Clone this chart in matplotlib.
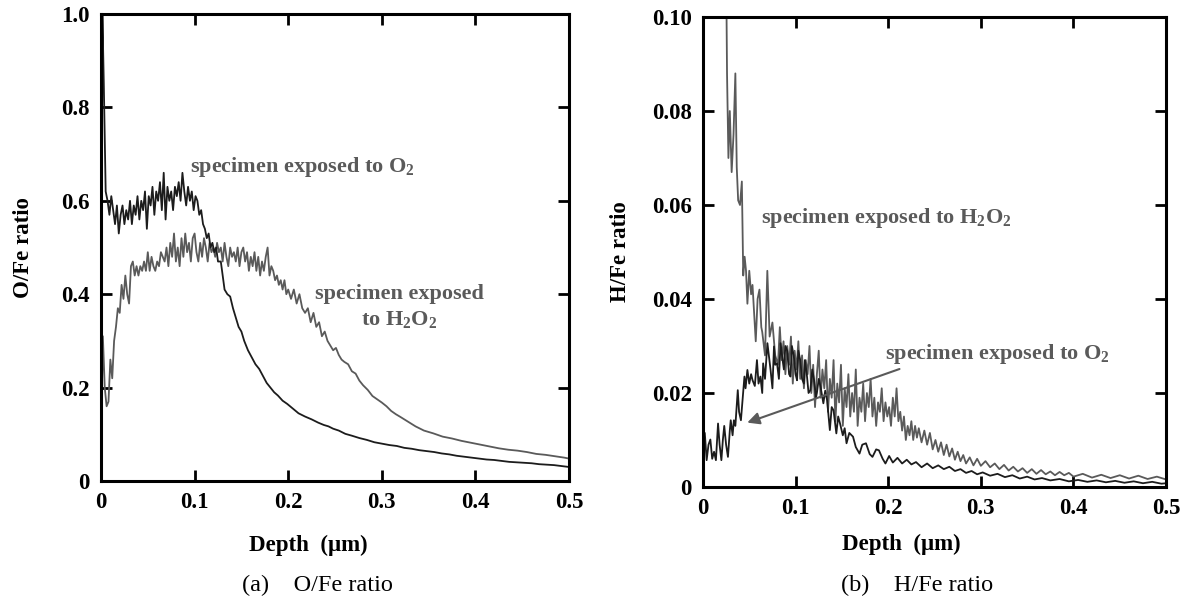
import matplotlib
matplotlib.use("Agg")
import matplotlib.pyplot as plt

plt.rcParams['font.family'] = ['Liberation Serif', 'DejaVu Serif']
plt.rcParams['mathtext.fontset'] = 'custom'
plt.rcParams['mathtext.rm'] = 'Liberation Serif:bold'
plt.rcParams['mathtext.it'] = 'Liberation Serif:bold'
plt.rcParams['mathtext.bf'] = 'Liberation Serif:bold'

# ---- (a) O/Fe ratio ----
o2_oxy_depth = [0.000, 0.0015, 0.003, 0.005, 0.007, 0.009, 0.011, 0.013, 0.015, 0.017,
                0.019, 0.021, 0.023, 0.025, 0.027, 0.029, 0.031, 0.033, 0.035, 0.037,
                0.039, 0.041, 0.043, 0.045, 0.047, 0.049, 0.051, 0.053, 0.055, 0.057,
                0.059, 0.061, 0.063, 0.065, 0.067, 0.069, 0.071, 0.073, 0.075, 0.077,
                0.079, 0.081, 0.083, 0.085, 0.087, 0.089, 0.091, 0.093, 0.095, 0.097,
                0.099, 0.101, 0.103, 0.105, 0.107, 0.109, 0.111, 0.113, 0.115, 0.117,
                0.119, 0.121, 0.123, 0.125, 0.128, 0.130, 0.132, 0.135, 0.138, 0.141,
                0.144, 0.147, 0.150, 0.153, 0.157, 0.161, 0.165, 0.169, 0.173, 0.177,
                0.181, 0.185, 0.189, 0.194, 0.199, 0.205, 0.211, 0.218, 0.225, 0.232,
                0.238, 0.243, 0.248, 0.254, 0.261, 0.268, 0.276, 0.284, 0.292, 0.300,
                0.308, 0.316, 0.324, 0.332, 0.340, 0.348, 0.356, 0.364, 0.372, 0.380,
                0.388, 0.396, 0.404, 0.412, 0.420, 0.428, 0.436, 0.444, 0.452, 0.460,
                0.468, 0.476, 0.484, 0.492, 0.500]
o2_oxy_ratio = [0.05, 1.00, 0.85, 0.62, 0.60, 0.57, 0.61, 0.58, 0.55, 0.59,
                0.53, 0.57, 0.59, 0.55, 0.58, 0.56, 0.60, 0.55, 0.59, 0.57,
                0.61, 0.56, 0.60, 0.58, 0.62, 0.54, 0.61, 0.59, 0.63, 0.57,
                0.62, 0.60, 0.64, 0.58, 0.66, 0.56, 0.63, 0.60, 0.62, 0.58,
                0.63, 0.61, 0.64, 0.60, 0.66, 0.62, 0.59, 0.63, 0.60, 0.62,
                0.58, 0.61, 0.60, 0.57, 0.58, 0.55, 0.54, 0.52, 0.53, 0.50,
                0.51, 0.49, 0.50, 0.47, 0.47, 0.44, 0.41, 0.40, 0.395, 0.37,
                0.35, 0.33, 0.32, 0.30, 0.28, 0.265, 0.25, 0.24, 0.225, 0.21,
                0.20, 0.19, 0.183, 0.172, 0.165, 0.155, 0.145, 0.138, 0.132, 0.125,
                0.120, 0.117, 0.112, 0.108, 0.101, 0.097, 0.092, 0.088, 0.083, 0.080,
                0.077, 0.075, 0.071, 0.069, 0.066, 0.064, 0.062, 0.059, 0.057, 0.054,
                0.052, 0.050, 0.048, 0.046, 0.045, 0.043, 0.041, 0.040, 0.039, 0.038,
                0.036, 0.035, 0.034, 0.032, 0.030]

h2o2_oxy_depth = [0.000, 0.002, 0.004, 0.006, 0.008, 0.010, 0.012, 0.014, 0.016, 0.018,
                  0.020, 0.022, 0.024, 0.026, 0.028, 0.030, 0.032, 0.034, 0.036, 0.038,
                  0.040, 0.042, 0.044, 0.046, 0.048, 0.050, 0.052, 0.054, 0.056, 0.058,
                  0.060, 0.062, 0.064, 0.066, 0.068, 0.070, 0.072, 0.074, 0.076, 0.078,
                  0.080, 0.082, 0.084, 0.086, 0.088, 0.090, 0.092, 0.094, 0.096, 0.098,
                  0.100, 0.102, 0.104, 0.106, 0.108, 0.110, 0.112, 0.114, 0.116, 0.118,
                  0.120, 0.122, 0.124, 0.126, 0.128, 0.130, 0.132, 0.134, 0.136, 0.138,
                  0.140, 0.142, 0.144, 0.146, 0.148, 0.150, 0.152, 0.154, 0.156, 0.158,
                  0.160, 0.162, 0.164, 0.166, 0.168, 0.170, 0.172, 0.174, 0.176, 0.178,
                  0.180, 0.182, 0.184, 0.186, 0.188, 0.190, 0.192, 0.194, 0.196, 0.198,
                  0.200, 0.203, 0.206, 0.209, 0.212, 0.215, 0.218, 0.221, 0.224, 0.227,
                  0.230, 0.233, 0.236, 0.239, 0.242, 0.245, 0.248, 0.251, 0.254, 0.257,
                  0.260, 0.264, 0.268, 0.272, 0.276, 0.280, 0.285, 0.290, 0.295, 0.300,
                  0.305, 0.310, 0.315, 0.320, 0.328, 0.336, 0.345, 0.355, 0.365, 0.375,
                  0.385, 0.395, 0.405, 0.415, 0.425, 0.435, 0.445, 0.455, 0.465, 0.475,
                  0.485, 0.495, 0.500]
h2o2_oxy_ratio = [0.09, 0.31, 0.20, 0.16, 0.17, 0.26, 0.22, 0.30, 0.33, 0.37,
                  0.36, 0.42, 0.39, 0.44, 0.40, 0.38, 0.46, 0.47, 0.44, 0.46,
                  0.44, 0.46, 0.45, 0.47, 0.45, 0.49, 0.45, 0.48, 0.46, 0.45,
                  0.47, 0.46, 0.49, 0.48, 0.47, 0.50, 0.46, 0.51, 0.48, 0.53,
                  0.47, 0.50, 0.46, 0.52, 0.48, 0.53, 0.49, 0.51, 0.47, 0.52,
                  0.53, 0.49, 0.47, 0.51, 0.48, 0.52, 0.50, 0.47, 0.51, 0.49,
                  0.50, 0.48, 0.51, 0.49, 0.50, 0.47, 0.51, 0.48, 0.46, 0.50,
                  0.48, 0.49, 0.47, 0.50, 0.46, 0.49, 0.50, 0.47, 0.49, 0.45,
                  0.48, 0.46, 0.49, 0.45, 0.48, 0.44, 0.47, 0.45, 0.48, 0.50,
                  0.44, 0.46, 0.45, 0.43, 0.44, 0.42, 0.43, 0.41, 0.43, 0.40,
                  0.41, 0.39, 0.41, 0.38, 0.40, 0.37, 0.36, 0.37, 0.34, 0.36,
                  0.33, 0.34, 0.31, 0.32, 0.30, 0.29, 0.28, 0.285, 0.27, 0.26,
                  0.255, 0.25, 0.235, 0.23, 0.215, 0.205, 0.195, 0.182, 0.175, 0.168,
                  0.16, 0.15, 0.143, 0.137, 0.127, 0.117, 0.108, 0.102, 0.095, 0.091,
                  0.086, 0.082, 0.078, 0.074, 0.070, 0.067, 0.065, 0.062, 0.058, 0.056,
                  0.053, 0.050, 0.048]

# ---- (b) H/Fe ratio ----
o2_hyd_depth = [0.000, 0.002, 0.004, 0.006, 0.008, 0.010, 0.012, 0.014, 0.0163, 0.018,
                0.0199, 0.0215, 0.023, 0.025, 0.027, 0.029, 0.030, 0.032, 0.0334, 0.035,
                0.0376, 0.039, 0.041, 0.043, 0.0448, 0.046, 0.048, 0.050, 0.052, 0.0536,
                0.056, 0.0583, 0.060, 0.062, 0.064, 0.065, 0.067, 0.0696, 0.073, 0.075,
                0.0767, 0.078, 0.080, 0.082, 0.0838, 0.086, 0.0874, 0.089, 0.091, 0.093,
                0.0945, 0.096, 0.098, 0.100, 0.1016, 0.103, 0.105, 0.107, 0.109, 0.110,
                0.112, 0.114, 0.116, 0.118, 0.120, 0.122, 0.123, 0.125, 0.127, 0.129,
                0.130, 0.132, 0.134, 0.137, 0.139, 0.141, 0.144, 0.146, 0.148, 0.151,
                0.153, 0.155, 0.158, 0.162, 0.165, 0.169, 0.172, 0.176, 0.180, 0.183,
                0.187, 0.190, 0.194, 0.197, 0.201, 0.205, 0.210, 0.215, 0.220, 0.225,
                0.230, 0.236, 0.242, 0.248, 0.254, 0.260, 0.266, 0.272, 0.278, 0.284,
                0.290, 0.296, 0.302, 0.310, 0.318, 0.326, 0.334, 0.342, 0.350, 0.358,
                0.366, 0.375, 0.385, 0.395, 0.405, 0.415, 0.425, 0.435, 0.445, 0.455,
                0.465, 0.475, 0.485, 0.495, 0.500]
o2_hyd_ratio = [0.0060, 0.0115, 0.0057, 0.0090, 0.0101, 0.0060, 0.0075, 0.0057, 0.0135, 0.0090,
                0.0057, 0.0100, 0.0130, 0.0090, 0.0064, 0.0120, 0.0142, 0.0110, 0.0142, 0.0130,
                0.0206, 0.0160, 0.0142, 0.0190, 0.0235, 0.0210, 0.0249, 0.0220, 0.0240, 0.0227,
                0.0215, 0.0270, 0.0220, 0.0235, 0.0200, 0.0263, 0.0230, 0.0306, 0.0249, 0.0210,
                0.0299, 0.0260, 0.0263, 0.0230, 0.0306, 0.0270, 0.0250, 0.0300, 0.0290, 0.0240,
                0.0235, 0.0300, 0.0280, 0.0240, 0.0227, 0.0290, 0.0270, 0.0230, 0.0220, 0.0270,
                0.0242, 0.0200, 0.0206, 0.0250, 0.0227, 0.0190, 0.0200, 0.0230, 0.0213, 0.0190,
                0.0178, 0.0205, 0.0185, 0.0121, 0.0170, 0.0163, 0.0114, 0.0150, 0.0135, 0.0110,
                0.0125, 0.0093, 0.0115, 0.0107, 0.0085, 0.0071, 0.0090, 0.0093, 0.0070, 0.0064,
                0.0080, 0.0078, 0.0060, 0.0050, 0.0066, 0.0052, 0.0062, 0.0050, 0.0058, 0.0048,
                0.0053, 0.0042, 0.0050, 0.0040, 0.0046, 0.0038, 0.0043, 0.0034, 0.0038, 0.0030,
                0.0034, 0.0027, 0.0031, 0.0024, 0.0028, 0.0021, 0.0025, 0.0018, 0.0022, 0.0016,
                0.0019, 0.0014, 0.0017, 0.0012, 0.0015, 0.0011, 0.0014, 0.0010, 0.0013, 0.0009,
                0.0012, 0.0008, 0.0011, 0.0007, 0.0008]

h2o2_hyd_depth = [0.024, 0.0255, 0.026, 0.0275, 0.029, 0.031, 0.033, 0.035, 0.0365, 0.038,
                  0.040, 0.042, 0.0435, 0.045, 0.0465, 0.048, 0.050, 0.052, 0.0535, 0.0555,
                  0.057, 0.059, 0.061, 0.063, 0.064, 0.067, 0.0695, 0.072, 0.075, 0.078,
                  0.081, 0.083, 0.085, 0.087, 0.089, 0.091, 0.093, 0.095, 0.097, 0.099,
                  0.101, 0.103, 0.105, 0.107, 0.109, 0.111, 0.113, 0.115, 0.117, 0.119,
                  0.121, 0.123, 0.125, 0.127, 0.129, 0.131, 0.133, 0.135, 0.137, 0.139,
                  0.141, 0.143, 0.145, 0.147, 0.149, 0.151, 0.153, 0.155, 0.157, 0.159,
                  0.161, 0.163, 0.165, 0.167, 0.169, 0.171, 0.173, 0.175, 0.177, 0.179,
                  0.181, 0.183, 0.185, 0.187, 0.189, 0.191, 0.193, 0.195, 0.197, 0.199,
                  0.201, 0.203, 0.205, 0.207, 0.209, 0.211, 0.213, 0.215, 0.217, 0.219,
                  0.221, 0.223, 0.225, 0.227, 0.229, 0.231, 0.233, 0.236, 0.239, 0.242,
                  0.245, 0.248, 0.251, 0.254, 0.257, 0.260, 0.263, 0.266, 0.269, 0.272,
                  0.275, 0.278, 0.281, 0.284, 0.288, 0.292, 0.296, 0.300, 0.305, 0.310,
                  0.315, 0.320, 0.325, 0.330, 0.335, 0.340, 0.345, 0.350, 0.355, 0.360,
                  0.365, 0.370, 0.375, 0.380, 0.385, 0.390, 0.395, 0.400, 0.410, 0.420,
                  0.430, 0.440, 0.450, 0.460, 0.470, 0.480, 0.490, 0.500]
h2o2_hyd_ratio = [0.120, 0.100, 0.088, 0.070, 0.080, 0.067, 0.075, 0.088, 0.068, 0.061,
                  0.060, 0.065, 0.045, 0.049, 0.046, 0.039, 0.046, 0.041, 0.043, 0.036,
                  0.031, 0.040, 0.042, 0.034, 0.033, 0.028, 0.046, 0.032, 0.035, 0.028,
                  0.026, 0.034, 0.027, 0.031, 0.024, 0.030, 0.026, 0.032, 0.022, 0.029,
                  0.025, 0.031, 0.023, 0.028, 0.021, 0.027, 0.024, 0.030, 0.020, 0.026,
                  0.017, 0.024, 0.029, 0.019, 0.025, 0.021, 0.027, 0.016, 0.023, 0.019,
                  0.027, 0.014, 0.022, 0.018, 0.026, 0.013, 0.021, 0.017, 0.024, 0.015,
                  0.020, 0.016, 0.025, 0.013, 0.019, 0.016, 0.022, 0.014, 0.020, 0.017,
                  0.023, 0.015, 0.019, 0.013, 0.018, 0.016, 0.021, 0.014, 0.018, 0.015,
                  0.017, 0.013, 0.019, 0.015, 0.021, 0.014, 0.016, 0.012, 0.015, 0.010,
                  0.013, 0.011, 0.014, 0.010, 0.013, 0.0105, 0.0125, 0.0095, 0.012, 0.009,
                  0.0115, 0.008, 0.010, 0.0075, 0.0095, 0.0068, 0.009, 0.0065, 0.0082, 0.0058,
                  0.0075, 0.0055, 0.0068, 0.005, 0.0063, 0.0046, 0.006, 0.0045, 0.0055, 0.0042,
                  0.005, 0.0038, 0.0047, 0.0035, 0.0043, 0.0033, 0.004, 0.003, 0.0038, 0.0028,
                  0.0036, 0.0027, 0.0033, 0.0025, 0.0032, 0.0025, 0.003, 0.0022, 0.0028, 0.002,
                  0.0026, 0.0019, 0.0025, 0.0018, 0.0024, 0.0017, 0.0022, 0.0016]

depth_ticks = [0, 0.1, 0.2, 0.3, 0.4, 0.5]
depth_labels = ['0', '0.1', '0.2', '0.3', '0.4', '0.5']
oxy_ticks = [0, 0.2, 0.4, 0.6, 0.8, 1.0]
oxy_labels = ['0', '0.2', '0.4', '0.6', '0.8', '1.0']
hyd_ticks = [0, 0.02, 0.04, 0.06, 0.08, 0.10]
hyd_labels = ['0', '0.02', '0.04', '0.06', '0.08', '0.10']

dark = '#1c1c1c'
grey = '#5a5a5a'

fig = plt.figure(figsize=(11.84, 5.99), dpi=100)
ax1 = fig.add_axes([0.0853, 0.197, 0.3953, 0.7796])
ax2 = fig.add_axes([0.5937, 0.187, 0.3912, 0.7846])


def style(ax, yticks, ylabels, ylabel, xlab_pos, ylab_x):
    ax.set_xlim(0, 0.5)
    ax.set_ylim(yticks[0], yticks[-1])
    ax.set_xticks(depth_ticks)
    ax.set_xticklabels(depth_labels)
    ax.set_yticks(yticks)
    ax.set_yticklabels(ylabels)
    for s in ax.spines.values():
        s.set_linewidth(2.2)
    ax.tick_params(direction='in', length=8, width=2, top=True, right=True,
                   labelsize=16.5, pad=8)
    for lab in ax.get_xticklabels() + ax.get_yticklabels():
        lab.set_fontweight('bold')
    ax.set_xlabel('Depth  (μm)', fontsize=16.5, fontweight='bold', va='center')
    ax.xaxis.set_label_coords(xlab_pos[0], xlab_pos[1])
    ax.set_ylabel(ylabel, fontsize=16.5, fontweight='bold', va='center')
    ax.yaxis.set_label_coords(ylab_x, 0.5)


ax1.plot(h2o2_oxy_depth, h2o2_oxy_ratio, color=grey, lw=1.3)
ax1.plot(o2_oxy_depth, o2_oxy_ratio, color=dark, lw=1.3)
style(ax1, oxy_ticks, oxy_labels, 'O/Fe ratio', (0.444, -0.137), -0.165)
ax1.text(0.095, 0.672, 'specimen exposed to O$_2$', color=grey, fontsize=16,
         fontweight='bold', va='center', ha='left')
ax1.text(0.319, 0.373, 'specimen exposed\nto H$_2$O$_2$', color=grey, fontsize=16,
         fontweight='bold', va='center', ha='center', linespacing=1.35)

ax2.plot(h2o2_hyd_depth, h2o2_hyd_ratio, color=grey, lw=1.3)
ax2.plot(o2_hyd_depth, o2_hyd_ratio, color=dark, lw=1.3)
style(ax2, hyd_ticks, hyd_labels, 'H/Fe ratio', (0.429, -0.123), -0.177)
ax2.text(0.063, 0.0572, 'specimen exposed to H$_2$O$_2$', color=grey, fontsize=16,
         fontweight='bold', va='center', ha='left')
ax2.text(0.196, 0.0283, 'specimen exposed to O$_2$', color=grey, fontsize=16,
         fontweight='bold', va='center', ha='left')
ax2.annotate('', xy=(0.045, 0.0135), xytext=(0.215, 0.0253),
             arrowprops=dict(arrowstyle='-|>', color=grey, lw=1.5, mutation_scale=18))

fig.text(0.268, 0.0234, '(a)    O/Fe ratio', fontsize=17.5, ha='center', va='center')
fig.text(0.7745, 0.0234, '(b)    H/Fe ratio', fontsize=17.5, ha='center', va='center')

fig.savefig('out.png', dpi=100)
